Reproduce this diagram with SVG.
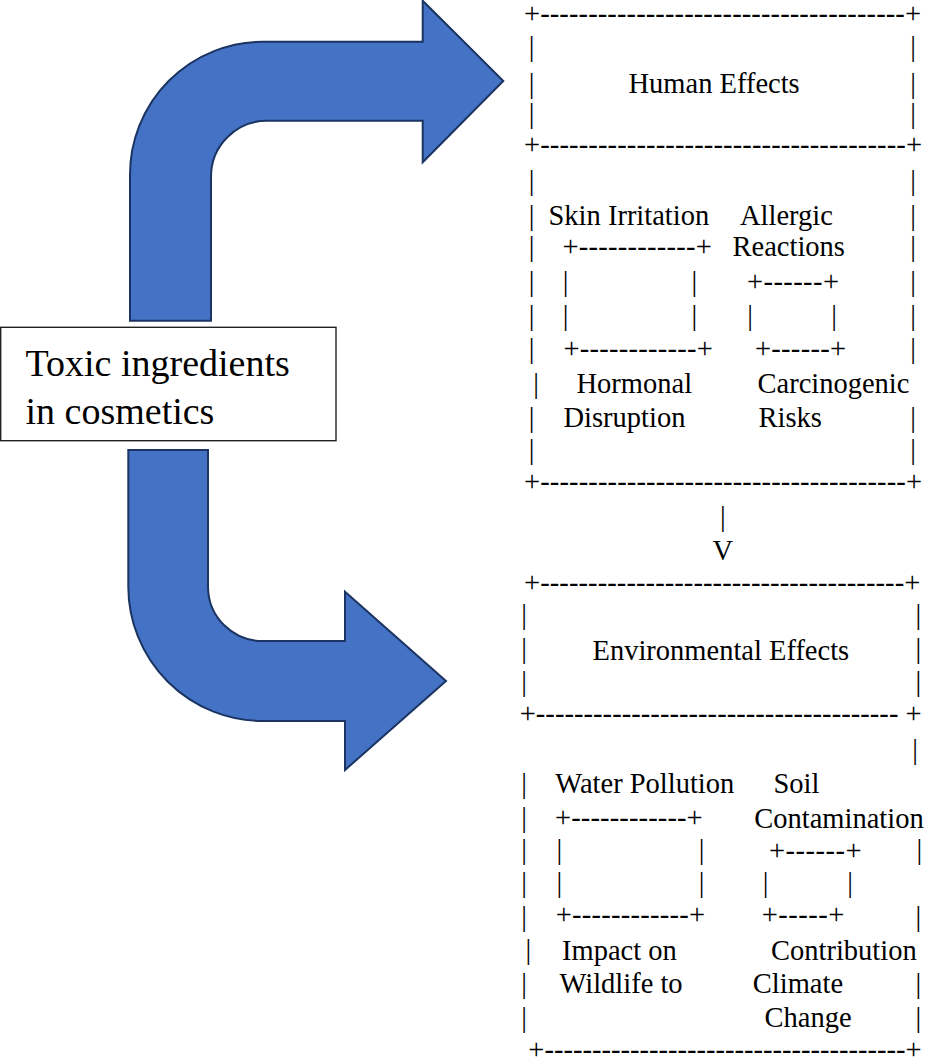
<svg xmlns="http://www.w3.org/2000/svg" width="926" height="1059" viewBox="0 0 926 1059">
<style>
.t{font-family:"Liberation Serif","Times New Roman",serif;font-size:28.5px;fill:#000}
.big{font-family:"Liberation Serif","Times New Roman",serif;font-size:38px;fill:#000}
.arrow{fill:#4472C4;stroke:#1B3461;stroke-width:2;stroke-linejoin:miter}
</style>
<rect width="926" height="1059" fill="#fff"/>
<g id="connectors">
<path class="arrow" d="M130,320.7 L130,175 A133,133 0 0 1 263,41.7 L422.7,41.7 L422.7,0.7 L503.3,81 L422.7,162.3 L422.7,120.7 L267,120.7 A56,56 0 0 0 211,177 L211,320.7 Z"/>
<path class="arrow" d="M128.3,450 L208,450 L208,586.7 A54.5,54.5 0 0 0 263,641 L345,641 L345,591.7 L446,681 L345,770 L345,721 L263,721 A134.5,134.5 0 0 1 128.3,586.7 Z"/>
<text class="t" x="719.9" y="526">|</text>
<text class="t" x="712.5" y="560">V</text>
</g>
<g id="source">
<rect x="0.7" y="327.3" width="335.3" height="113.4" fill="#fff" stroke="#222" stroke-width="1.4"/>
<text class="big" x="25.5" y="375.7">Toxic ingredients</text>
<text class="big" x="25.5" y="424">in cosmetics</text>
</g>
<g id="human-effects">
<text class="t" x="524" y="23" textLength="397" lengthAdjust="spacing">+--------------------------------------+</text>
<text class="t" x="528.8" y="56">|</text><text class="t" x="910.2" y="56">|</text>
<text class="t" x="528.8" y="93">|</text><text class="t" x="628.5" y="93">Human Effects</text><text class="t" x="910.2" y="93">|</text>
<text class="t" x="528.8" y="123">|</text><text class="t" x="910.2" y="123">|</text>
<text class="t" x="524" y="154" textLength="398" lengthAdjust="spacing">+--------------------------------------+</text>
<text class="t" x="528.8" y="190">|</text><text class="t" x="910.2" y="190">|</text>
<text class="t" x="528.8" y="225">|</text><text class="t" x="548.5" y="225">Skin Irritation</text><text class="t" x="740" y="225">Allergic</text><text class="t" x="910.2" y="225">|</text>
<text class="t" x="528.8" y="256">|</text><text class="t" x="562.5" y="256" textLength="149.4" lengthAdjust="spacing">+------------+</text><text class="t" x="732.5" y="256">Reactions</text><text class="t" x="910.2" y="256">|</text>
<text class="t" x="528.8" y="291">|</text><text class="t" x="562.8" y="291">|</text><text class="t" x="691.5" y="291">|</text><text class="t" x="747" y="291" textLength="92" lengthAdjust="spacing">+------+</text><text class="t" x="910.2" y="291">|</text>
<text class="t" x="528.8" y="325">|</text><text class="t" x="562.8" y="325">|</text><text class="t" x="691.5" y="325">|</text><text class="t" x="747.2" y="325">|</text><text class="t" x="831.2" y="325">|</text><text class="t" x="910.2" y="325">|</text>
<text class="t" x="528.8" y="358">|</text><text class="t" x="563.5" y="358" textLength="149.4" lengthAdjust="spacing">+------------+</text><text class="t" x="755" y="358" textLength="91" lengthAdjust="spacing">+------+</text><text class="t" x="910.2" y="358">|</text>
<text class="t" x="533.2" y="393">|</text><text class="t" x="576.5" y="393">Hormonal</text><text class="t" x="757.5" y="393">Carcinogenic</text>
<text class="t" x="528.8" y="427">|</text><text class="t" x="563.5" y="427">Disruption</text><text class="t" x="758.5" y="427">Risks</text><text class="t" x="910.2" y="427">|</text>
<text class="t" x="528.8" y="459">|</text><text class="t" x="910.2" y="459">|</text>
<text class="t" x="524" y="491" textLength="398" lengthAdjust="spacing">+--------------------------------------+</text>
</g>
<g id="environmental-effects">
<text class="t" x="524" y="592" textLength="396.3" lengthAdjust="spacing">+--------------------------------------+</text>
<text class="t" x="521.2" y="624">|</text><text class="t" x="915.5" y="624">|</text>
<text class="t" x="521.2" y="658">|</text><text class="t" x="592.5" y="660">Environmental Effects</text><text class="t" x="915.5" y="658">|</text>
<text class="t" x="521.2" y="691">|</text><text class="t" x="915.5" y="691">|</text>
<text class="t" x="519.7" y="723" textLength="402" lengthAdjust="spacing">+-------------------------------------- +</text>
<text class="t" x="912.2" y="759">|</text>
<text class="t" x="521.2" y="793">|</text><text class="t" x="555.3" y="793">Water Pollution</text><text class="t" x="773.5" y="793">Soil</text>
<text class="t" x="521.2" y="827">|</text><text class="t" x="555" y="827" textLength="147.7" lengthAdjust="spacing">+------------+</text><text class="t" x="754.3" y="828">Contamination</text>
<text class="t" x="521.2" y="859">|</text><text class="t" x="556.5" y="859">|</text><text class="t" x="698.8" y="859">|</text><text class="t" x="769" y="860" textLength="92.7" lengthAdjust="spacing">+------+</text><text class="t" x="916.5" y="859">|</text>
<text class="t" x="521.2" y="892">|</text><text class="t" x="556.5" y="892">|</text><text class="t" x="698.8" y="892">|</text><text class="t" x="762.8" y="892">|</text><text class="t" x="847.2" y="892">|</text>
<text class="t" x="521.2" y="926">|</text><text class="t" x="555.7" y="924" textLength="149.3" lengthAdjust="spacing">+------------+</text><text class="t" x="761.7" y="924" textLength="82.6" lengthAdjust="spacing">+-----+</text><text class="t" x="915.5" y="926">|</text>
<text class="t" x="525.5" y="959">|</text><text class="t" x="562" y="960">Impact on</text><text class="t" x="771" y="960">Contribution</text>
<text class="t" x="521.2" y="993">|</text><text class="t" x="559.5" y="993">Wildlife to</text><text class="t" x="752.8" y="993">Climate</text><text class="t" x="915.5" y="993">|</text>
<text class="t" x="521.2" y="1027">|</text><text class="t" x="764.5" y="1027">Change</text><text class="t" x="915.5" y="1027">|</text>
<text class="t" x="528.3" y="1059" textLength="393.4" lengthAdjust="spacing">+--------------------------------------+</text>
</g>
</svg>
